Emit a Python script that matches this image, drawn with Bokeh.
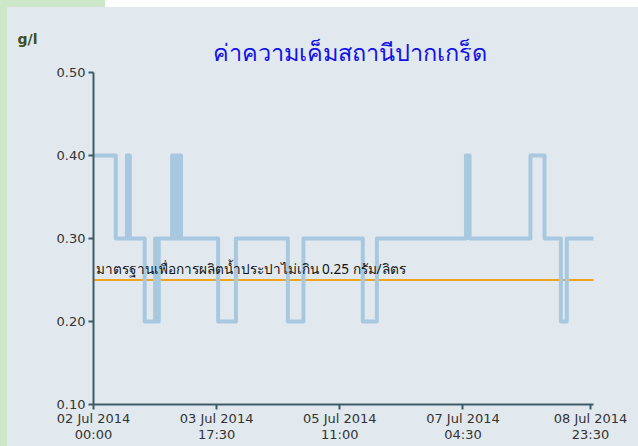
from datetime import datetime
from bokeh.plotting import figure
from bokeh.models import (FixedTicker, DatetimeTickFormatter, NumeralTickFormatter,
                          Range1d, Label, InlineStyleSheet)
from bokeh.embed import file_html
from bokeh.resources import INLINE

# ---- data ----
times = ["2014-07-02 00:00", "2014-07-02 07:30", "2014-07-02 11:15", "2014-07-02 12:15",
         "2014-07-02 17:15", "2014-07-02 20:45", "2014-07-02 21:15", "2014-07-02 22:00",
         "2014-07-03 02:30", "2014-07-03 03:00", "2014-07-03 03:30", "2014-07-03 04:00",
         "2014-07-03 04:30", "2014-07-03 05:30", "2014-07-03 18:00", "2014-07-04 00:00",
         "2014-07-04 17:30", "2014-07-04 22:45", "2014-07-05 18:45", "2014-07-05 23:30",
         "2014-07-07 05:30", "2014-07-07 06:45", "2014-07-08 03:15", "2014-07-08 08:00",
         "2014-07-08 13:30", "2014-07-08 15:30", "2014-07-09 00:30"]
salinity = [0.40, 0.30, 0.40, 0.30,
            0.20, 0.30, 0.20, 0.30,
            0.40, 0.30, 0.40, 0.30,
            0.40, 0.30, 0.20, 0.30,
            0.20, 0.30, 0.20, 0.30,
            0.40, 0.30, 0.40, 0.30,
            0.20, 0.30, 0.30]
x_ticks = ["2014-07-02 00:00", "2014-07-03 17:30", "2014-07-05 11:00",
           "2014-07-07 04:30", "2014-07-08 23:30"]
y_ticks = [0.10, 0.20, 0.30, 0.40, 0.50]
threshold = 0.25
title_text = "ค่าความเค็มสถานีปากเกร็ด"
threshold_text = "มาตรฐานเพื่อการผลิตน้ำประปาไม่เกิน 0.25 กรัม/ลิตร"
unit_text = "g/l"

fmt = "%Y-%m-%d %H:%M"
t = [datetime.strptime(s, fmt).timestamp() * 1000 for s in times]
xt = [datetime.strptime(s, fmt).timestamp() * 1000 for s in x_ticks]

# ---- layout (pixels of the plotting area inside a 638x446 canvas) ----
W, H = 638, 446
AX_L, AX_R, AX_T, AX_B = 93, 593, 72, 404

x0, x1 = t[0], t[-1]
y0, y1 = y_ticks[0], y_ticks[-1]
kx = (x1 - x0) / (AX_R - AX_L)
ky = (y1 - y0) / (AX_B - AX_T)
x_range = Range1d(x0 - AX_L * kx, x1 + (W - AX_R) * kx)
y_range = Range1d(y0 - (H - AX_B) * ky, y1 + AX_T * ky)

PANEL = "#e2e9ee"
GREEN = "#cde8c9"
AXIS = "#3d5b68"

p = figure(width=W, height=H, x_axis_type="datetime", output_backend="svg",
           toolbar_location=None, x_range=x_range, y_range=y_range)
p.min_border = 0
p.title.visible = False
p.stylesheets = [InlineStyleSheet(css=f"""
:host {{
  background:
    linear-gradient({GREEN},{GREEN}) left top / 7px 100% no-repeat,
    linear-gradient({GREEN},{GREEN}) left top / 105px 7px no-repeat,
    linear-gradient(#ffffff,#ffffff) left top / 100% 7px no-repeat,
    {PANEL};
}}
""")]
p.border_fill_alpha = 0
p.background_fill_alpha = 0
p.outline_line_color = None
p.grid.visible = False

for ax in (p.xaxis[0], p.yaxis[0]):
    ax.axis_line_color = AXIS
    ax.axis_line_width = 2
    ax.major_tick_line_color = AXIS
    ax.major_tick_line_width = 2
    ax.major_tick_out = 5
    ax.major_tick_in = 0
    ax.minor_tick_line_color = None
    ax.major_label_text_font = "DejaVu Sans"
    ax.major_label_text_font_size = "13px"
    ax.major_label_text_color = "#333333"

p.xaxis.fixed_location = y0
p.xaxis.bounds = (x0, x1)
p.xaxis.ticker = FixedTicker(ticks=xt)
f = "%d %b %Y\n%H:%M"
p.xaxis.formatter = DatetimeTickFormatter(milliseconds=f, seconds=f, minsec=f, minutes=f,
                                          hourmin=f, hours=f, days=f, months=f, years=f)
p.xaxis.major_label_standoff = 1
p.xaxis.major_label_text_line_height = 1.1

p.yaxis.fixed_location = x0
p.yaxis.bounds = (y0, y1)
p.yaxis.ticker = FixedTicker(ticks=y_ticks)
p.yaxis.formatter = NumeralTickFormatter(format="0.00")
p.yaxis.major_label_standoff = 3

# threshold line and the series
p.line([x0, x1], [threshold, threshold], line_color="#f0a31c", line_width=2)
p.step(t, salinity, mode="after", line_color="#a8c8e0", line_width=4, line_join="round")

# texts
p.add_layout(Label(x=x0, y=threshold, x_offset=2, y_offset=12, text=threshold_text,
                   text_font="Noto Sans", text_font_size="13.6px", text_color="#111111",
                   text_baseline="alphabetic"))
p.add_layout(Label(x=x0, y=y1, x_offset=256, y_offset=21, text=title_text,
                   text_font="Noto Sans", text_font_size="23.5px", text_color="#1212e6",
                   text_align="center", text_baseline="alphabetic"))
p.add_layout(Label(x=x0, y=y1, x_offset=-76, y_offset=34, text=unit_text,
                   text_font="DejaVu Sans", text_font_size="14px", text_font_style="bold",
                   text_color="#3e4d22", text_baseline="alphabetic"))

open("out.html", "w").write(file_html(p, INLINE))
